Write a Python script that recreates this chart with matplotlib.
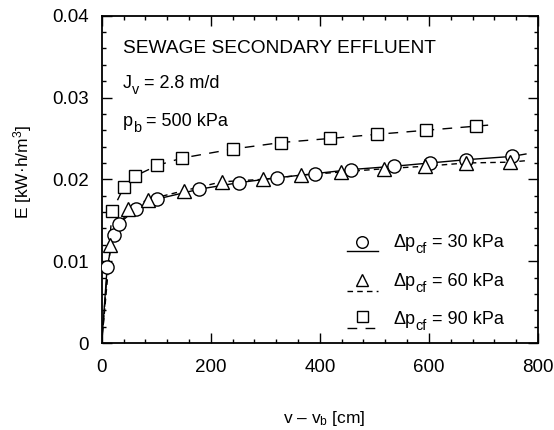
import numpy as np
import matplotlib
matplotlib.use("Agg")
from matplotlib import pyplot as plt
from matplotlib.ticker import MultipleLocator

plt.rcParams['font.family'] = ['Liberation Sans', 'DejaVu Sans']
plt.rcParams['mathtext.fontset'] = 'custom'
plt.rcParams['mathtext.rm'] = 'Liberation Sans'
plt.rcParams['mathtext.it'] = 'Liberation Sans'

# measured specific energy vs. permeate volume, one series per crossflow pressure drop
v_30 = [10, 22, 32, 63, 102, 179, 252, 322, 391, 458, 536, 602, 668, 752]
E_30 = [0.0093, 0.0132, 0.0146, 0.0164, 0.0176, 0.0188, 0.0196, 0.0202,
        0.0207, 0.0212, 0.0216, 0.0220, 0.0224, 0.0228]
v_60 = [16, 49, 84, 150, 220, 295, 365, 439, 518, 593, 668, 749]
E_60 = [0.0120, 0.0164, 0.0175, 0.0186, 0.0197, 0.0200, 0.0205, 0.0209,
        0.0213, 0.0216, 0.0220, 0.0221]
v_90 = [19, 41, 61, 102, 147, 240, 329, 419, 504, 595, 686]
E_90 = [0.0161, 0.0191, 0.0204, 0.0217, 0.0226, 0.0237, 0.0245, 0.0250,
        0.0255, 0.0260, 0.0265]

# fitted curves: start at the origin, run a little past the last point
fit_end_v = [778, 781, 723]
fit_end_E = [0.0231, 0.0223, 0.0267]

pressures = ['30', '60', '90']

series = [
    (v_30, E_30, 'o', '-', 9.5),
    (v_60, E_60, '^', (0, (4, 3)), 10),
    (v_90, E_90, 's', (0, (7, 6)), 9),
]

fig = plt.figure(figsize=(5.54, 4.30), dpi=100)
ax = fig.add_axes([0.1836, 0.2023, 0.7874, 0.7612])
renderer = fig.canvas.get_renderer()


def sub_text(x, y, pieces, fs):
    """Write text with big, low subscripts; pieces = [(str, is_sub), ...]."""
    dx = 0.0
    for s, is_sub in pieces:
        size = fs * 0.8 if is_sub else fs
        dy = -fs * 0.32 if is_sub else 0.0
        t = ax.annotate(s, xy=(x, y), xycoords='axes fraction',
                        xytext=(dx, dy), textcoords='offset points',
                        fontsize=size, va='baseline', ha='left')
        dx += t.get_window_extent(renderer).width * 72.0 / fig.dpi
        if is_sub:
            dx += fs * 0.3


for i, (v, E, mk, ls, ms) in enumerate(series):
    vx = [0] + list(v) + [fit_end_v[i]]
    ey = [0] + list(E) + [fit_end_E[i]]
    ax.plot(vx, ey, color='black', lw=1.0, ls=ls, zorder=2)
    ax.plot(v, E, ls='none', marker=mk, ms=ms, mfc='white', mec='black',
            mew=1.0, zorder=3)

ax.set_xlim(0, 800)
ax.set_ylim(0, 0.04)
ax.xaxis.set_major_locator(MultipleLocator(200))
ax.xaxis.set_minor_locator(MultipleLocator(40))
ax.yaxis.set_minor_locator(MultipleLocator(0.002))
ax.set_yticks([0, 0.01, 0.02, 0.03, 0.04])
ax.set_yticklabels(['0', '0.01', '0.02', '0.03', '0.04'])
ax.tick_params(which='both', direction='in', top=True, right=True,
               labelsize=13.5, width=1.0)
ax.tick_params(which='major', length=7)
ax.tick_params(axis='x', which='major', pad=11.5)
ax.tick_params(axis='y', which='major', pad=9)
ax.tick_params(which='minor', length=3)
for s in ax.spines.values():
    s.set_linewidth(1.3)

fig.text(0.585, 0.026, r'v – v$_{\mathrm{b}}$ [cm]', fontsize=12.5,
         ha='center', va='center')
fig.text(0.040, 0.60, r'E [kW·h/m$^{\mathrm{3}}$]', fontsize=12.5,
         rotation=90, ha='center', va='center')

ax.text(0.048, 0.886, 'SEWAGE SECONDARY EFFLUENT', transform=ax.transAxes,
        fontsize=13.8, va='baseline')
sub_text(0.048, 0.779, [('J', False), ('v', True), ('= 2.8 m/d', False)], 13)
sub_text(0.048, 0.663, [('p', False), ('b', True), ('= 500 kPa', False)], 13)

# hand-built legend: marker sitting above a short line sample
leg_text_y = [0.293, 0.174, 0.058]
leg_mark_y = [0.309, 0.193, 0.081]
leg_line_y = [0.281, 0.160, 0.046]
for (v, E, mk, ls, ms), p, ty, my, ly in zip(series, pressures, leg_text_y,
                                            leg_mark_y, leg_line_y):
    ax.plot([0.5615, 0.633], [ly, ly], transform=ax.transAxes,
            color='black', lw=1.0, ls=ls, clip_on=False)
    ax.plot([0.596], [my], transform=ax.transAxes, ls='none', marker=mk,
            ms=ms * 0.88, mfc='white', mec='black', mew=1.0, clip_on=False)
    sub_text(0.668, ty, [('\u0394p', False), ('cf', True),
                         ('= %s kPa' % p, False)], 13)

fig.savefig('out.png', dpi=100)
